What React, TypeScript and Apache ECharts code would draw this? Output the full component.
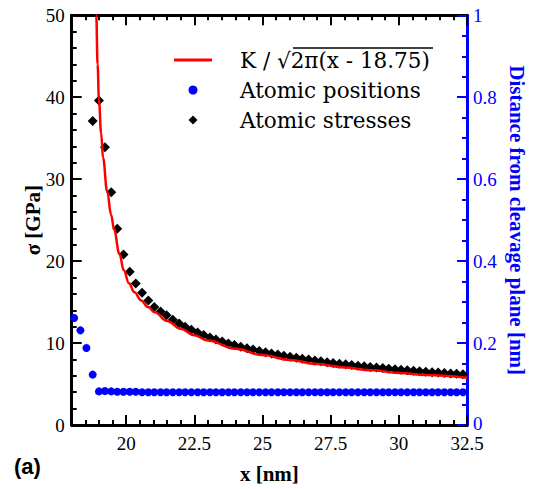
import React, { useEffect, useRef } from "react";
import * as echarts from "echarts";

// Atom x positions [nm]
const atomX = [18.09, 18.32, 18.54, 18.77, 19.0, 19.22, 19.45, 19.67, 19.9, 20.13, 20.35, 20.58, 20.81, 21.03, 21.26, 21.48, 21.71, 21.94, 22.16, 22.39, 22.62, 22.84, 23.07, 23.29, 23.52, 23.75, 23.97, 24.2, 24.43, 24.65, 24.88, 25.11, 25.33, 25.56, 25.78, 26.01, 26.24, 26.46, 26.69, 26.92, 27.14, 27.37, 27.59, 27.82, 28.05, 28.27, 28.5, 28.73, 28.95, 29.18, 29.41, 29.63, 29.86, 30.08, 30.31, 30.54, 30.76, 30.99, 31.22, 31.44, 31.67, 31.9, 32.12, 32.35];
// Distance from cleavage plane [nm] (right axis)
const atomDistance = [0.261, 0.231, 0.188, 0.123, 0.082, 0.083, 0.082, 0.081, 0.081, 0.081, 0.081, 0.08, 0.08, 0.08, 0.08, 0.08, 0.08, 0.08, 0.08, 0.08, 0.08, 0.08, 0.08, 0.08, 0.08, 0.08, 0.08, 0.08, 0.08, 0.08, 0.08, 0.08, 0.08, 0.08, 0.08, 0.08, 0.08, 0.08, 0.08, 0.08, 0.08, 0.08, 0.08, 0.08, 0.08, 0.08, 0.08, 0.08, 0.08, 0.08, 0.08, 0.08, 0.08, 0.08, 0.08, 0.08, 0.08, 0.08, 0.08, 0.08, 0.08, 0.08, 0.08, 0.08];
// Atomic stresses [GPa], for atoms starting at the 4th position
const stressStart = 3;
const atomStress = [37.1, 39.6, 33.9, 28.4, 23.95, 20.8, 18.7, 17.27, 16.14, 15.18, 14.4, 13.86, 13.4, 12.85, 12.4, 12.0, 11.62, 11.28, 10.97, 10.68, 10.43, 10.19, 9.96, 9.76, 9.56, 9.37, 9.2, 9.04, 8.88, 8.74, 8.6, 8.46, 8.33, 8.2, 8.09, 7.98, 7.87, 7.77, 7.67, 7.58, 7.49, 7.4, 7.32, 7.24, 7.16, 7.09, 7.02, 6.95, 6.88, 6.81, 6.75, 6.69, 6.63, 6.57, 6.51, 6.45, 6.4, 6.35, 6.3, 6.25, 6.2];
// Fitted curve K / sqrt(2π(x - 18.75))
const fitX = [18.88, 18.9, 18.95, 19.0, 19.08, 19.15, 19.3, 19.45, 19.55, 19.75, 19.91, 20.1, 20.3, 20.55, 20.8, 21.05, 21.5, 22, 22.5, 23, 24, 25, 26, 27, 28, 29, 30, 31, 32.5];
const fitY = [56, 50, 44, 39.6, 35.6, 32.6, 28.5, 25.6, 23.9, 20.9, 18.9, 17.3, 16.2, 15.2, 14.4, 13.75, 12.7, 11.75, 10.95, 10.3, 9.3, 8.53, 7.93, 7.43, 7.02, 6.67, 6.36, 6.1, 5.77];
const xMajorTicks = [20, 22.5, 25, 27.5, 30, 32.5];

const FIT_NAME = "K / \u221a2\u03c0(x - 18.75)";
const POS_NAME = "Atomic positions";
const STRESS_NAME = "Atomic stresses";

const SERIF = "'Liberation Serif', 'Times New Roman', serif";
const BLUE = "#0000ff";

export default function App() {
  const ref = useRef<HTMLDivElement>(null);
  useEffect(() => {
    if (!ref.current) return;
    const chart = echarts.init(ref.current, undefined, { renderer: "svg" });
    const tickLine = { color: "#000", width: 2 };
    const minorX = (pos: string) => ({
      type: "value",
      position: pos,
      min: 18,
      max: 32.5,
      interval: 0.5,
      axisLine: { show: true, lineStyle: { color: "#000", width: 3 } },
      axisTick: { show: true, inside: true, length: 5, lineStyle: tickLine },
      axisLabel: { show: false },
      splitLine: { show: false },
    });
    const majorX = (pos: string, withLabels: boolean) => ({
      type: "value",
      position: pos,
      min: 18,
      max: 32.5,
      axisLine: { show: false },
      axisTick: { show: true, inside: true, length: 10, lineStyle: tickLine, customValues: xMajorTicks },
      axisLabel: withLabels
        ? { show: true, customValues: xMajorTicks, fontFamily: SERIF, fontSize: 19, lineHeight: 16, color: "#000", margin: 10 }
        : { show: false },
      splitLine: { show: false },
      ...(withLabels
        ? {
            name: "x [nm]",
            nameLocation: "middle",
            nameGap: 38,
            nameMoveOverlap: false,
            nameTextStyle: { fontFamily: SERIF, fontSize: 21, fontWeight: "bold", color: "#000" },
          }
        : {}),
    });
    chart.setOption({
      animation: false,
      backgroundColor: "#fff",
      grid: { left: 71.7, right: 66.3, top: 15.3, bottom: 57, containLabel: false },
      legend: {
        orient: "vertical",
        left: 174,
        top: 49,
        padding: 0,
        itemGap: 8,
        itemWidth: 38,
        itemHeight: 9,
        symbolKeepAspect: true,
        data: [
          { name: FIT_NAME, icon: "path://M0,0H38V3H0Z" },
          { name: POS_NAME, icon: "circle" },
          { name: STRESS_NAME, icon: "path://M5,0L10,5L5,10L0,5Z" },
        ],
        textStyle: {
          fontFamily: "'DejaVu Serif', serif",
          fontSize: 21.5,
          lineHeight: 22,
          color: "#000",
          padding: [0, 0, 0, 23],
        },
      },
      xAxis: [minorX("bottom"), majorX("bottom", true), minorX("top"), majorX("top", false)],
      yAxis: [
        {
          type: "value",
          position: "left",
          min: 0,
          max: 50,
          interval: 10,
          axisLine: { show: true, lineStyle: { color: "#000", width: 3 } },
          axisTick: { show: true, inside: true, length: 10, lineStyle: tickLine },
          minorTick: { show: true, splitNumber: 5, length: 5, lineStyle: tickLine },
          axisLabel: { fontFamily: SERIF, fontSize: 19, lineHeight: 16, color: "#000", margin: 7 },
          splitLine: { show: false },
          name: "\u03c3 [GPa]",
          nameLocation: "middle",
          nameRotate: 90,
          nameGap: 28,
          nameMoveOverlap: false,
          nameTextStyle: { fontFamily: SERIF, fontSize: 21, fontWeight: "bold", color: "#000" },
        },
        {
          type: "value",
          position: "right",
          min: 0,
          max: 1,
          interval: 0.2,
          axisLine: { show: true, lineStyle: { color: BLUE, width: 3 } },
          axisTick: { show: true, inside: true, length: 10, lineStyle: { color: BLUE, width: 2 } },
          minorTick: { show: true, splitNumber: 4, length: 5, lineStyle: { color: BLUE, width: 2 } },
          axisLabel: {
            fontFamily: SERIF,
            fontSize: 19,
            lineHeight: 16,
            color: BLUE,
            margin: 6,
            formatter: (v: number) => (v === 0 ? "{low|0}" : String(v)),
            rich: { low: { fontFamily: SERIF, fontSize: 19, lineHeight: 16, color: BLUE, padding: [0, 0, 4, 0] } },
          },
          splitLine: { show: false },
          name: "Distance from cleavage plane [nm]",
          nameLocation: "middle",
          nameRotate: -90,
          nameGap: 39,
          nameMoveOverlap: false,
          nameTextStyle: { fontFamily: SERIF, fontSize: 21, fontWeight: "bold", color: BLUE },
        },
      ],
      series: [
        {
          name: STRESS_NAME,
          type: "scatter",
          xAxisIndex: 0,
          yAxisIndex: 0,
          data: atomStress.map((v, i) => [atomX[i + stressStart], v]),
          symbol: "diamond",
          symbolSize: 10,
          itemStyle: { color: "#000", opacity: 1 },
          z: 3,
        },
        {
          name: FIT_NAME,
          type: "line",
          xAxisIndex: 0,
          yAxisIndex: 0,
          data: fitX.map((x, i) => [x, fitY[i]]),
          symbol: "none",
          smooth: 0.4,
          smoothMonotone: "x",
          clip: true,
          lineStyle: { color: "#ff0000", width: 2.5 },
          itemStyle: { color: "#ff0000" },
          z: 4,
        },
        {
          name: POS_NAME,
          type: "scatter",
          xAxisIndex: 0,
          yAxisIndex: 1,
          data: atomDistance.map((v, i) => [atomX[i], v]),
          symbol: "circle",
          symbolSize: 8,
          itemStyle: { color: BLUE, opacity: 1 },
          z: 5,
        },
      ],
      graphic: [
        {
          type: "line",
          shape: { x1: 293, y1: 48, x2: 433, y2: 48 },
          style: { stroke: "#000", lineWidth: 1.5 },
        },
        {
          type: "text",
          left: 14,
          top: 455,
          style: {
            text: "(a)",
            fontFamily: "'Liberation Sans', Arial, sans-serif",
            fontWeight: "bold",
            fontSize: 22,
            fill: "#000",
          },
        },
      ],
    });
    return () => chart.dispose();
  }, []);
  return <div ref={ref} style={{ width: 535, height: 489, position: "absolute", left: 0, top: 0 }} />;
}
